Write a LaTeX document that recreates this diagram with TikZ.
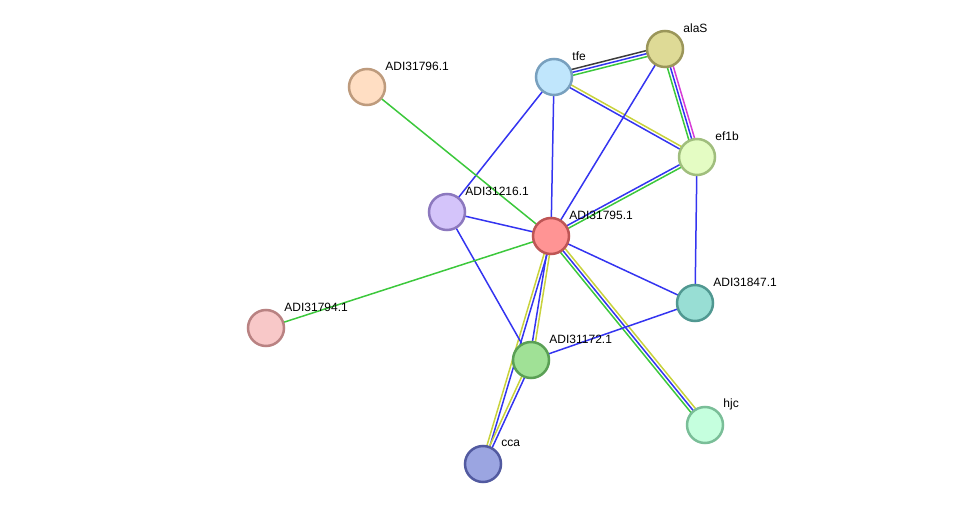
\documentclass[tikz,border=0pt]{standalone}
\usepackage{fontspec}
\setmainfont{Liberation Sans}
\usetikzlibrary{calc,backgrounds}

\definecolor{lnblue}{RGB}{52,52,240}
\definecolor{lngreen}{RGB}{60,200,60}
\definecolor{lnyellow}{RGB}{200,210,60}
\definecolor{lnpink}{RGB}{215,60,215}
\definecolor{lnblack}{RGB}{60,60,60}

% draw one coloured strand of a link, shifted sideways by #4
\newcommand\strand[4]{\draw[edge,#3] ($(#1.center)!#4!90:(#2.center)$) -- ($(#2.center)!#4!-90:(#1.center)$);}

\begin{document}
\begin{tikzpicture}
      [
        x=1pt, y=-1pt,
        prot/.style={circle, draw, line width=2.5pt, minimum size=36pt, inner sep=0pt},
        lbl/.style={xshift=-1pt, yshift=21pt, inner sep=0pt, font=\fontsize{12}{14}\selectfont},
        edge/.style={line width=1.5pt},
      ]
      \useasboundingbox (0,0) rectangle (975,510);

      % proteins
      \node [prot, fill={rgb,255:red,255;green,148;blue,148}, draw={rgb,255:red,190;green,85;blue,85}, label={[lbl]0:ADI31795.1}] (n795) at (551,236) {};
      \node [prot, fill={rgb,255:red,222;green,218;blue,150}, draw={rgb,255:red,155;green,150;blue,90}, label={[lbl]0:alaS}] (alas) at (665,49) {};
      \node [prot, fill={rgb,255:red,192;green,230;blue,252}, draw={rgb,255:red,120;green,160;blue,190}, label={[lbl]0:tfe}] (tfe) at (554,77) {};
      \node [prot, fill={rgb,255:red,228;green,252;blue,195}, draw={rgb,255:red,160;green,190;blue,125}, label={[lbl]0:ef1b}] (ef1b) at (697,157) {};
      \node [prot, fill={rgb,255:red,255;green,222;blue,195}, draw={rgb,255:red,190;green,155;blue,125}, label={[lbl]0:ADI31796.1}] (n796) at (367,87) {};
      \node [prot, fill={rgb,255:red,212;green,196;blue,250}, draw={rgb,255:red,140;green,120;blue,190}, label={[lbl]0:ADI31216.1}] (n216) at (447,212) {};
      \node [prot, fill={rgb,255:red,152;green,222;blue,212}, draw={rgb,255:red,80;green,152;blue,145}, label={[lbl]0:ADI31847.1}] (n847) at (695,303) {};
      \node [prot, fill={rgb,255:red,248;green,200;blue,200}, draw={rgb,255:red,185;green,130;blue,130}, label={[lbl]0:ADI31794.1}] (n794) at (266,328) {};
      \node [prot, fill={rgb,255:red,160;green,225;blue,150}, draw={rgb,255:red,90;green,160;blue,85}, label={[lbl]0:ADI31172.1}] (n172) at (531,360) {};
      \node [prot, fill={rgb,255:red,197;green,255;blue,222}, draw={rgb,255:red,122;green,190;blue,152}, label={[lbl]0:hjc}] (hjc) at (705,425) {};
      \node [prot, fill={rgb,255:red,155;green,165;blue,225}, draw={rgb,255:red,82;green,90;blue,160}, label={[lbl]0:cca}] (cca) at (483,464) {};

      \begin{scope}[on background layer]
      \strand{tfe}{alas}{lnblack}{3pt}
      \strand{tfe}{alas}{lnblue}{0pt}
      \strand{tfe}{alas}{lngreen}{-3pt}
      \strand{alas}{ef1b}{lnpink}{3pt}
      \strand{alas}{ef1b}{lnblue}{0pt}
      \strand{alas}{ef1b}{lngreen}{-3pt}
      \strand{tfe}{ef1b}{lnyellow}{1.5pt}
      \strand{tfe}{ef1b}{lnblue}{-1.5pt}
      \strand{n795}{ef1b}{lnblue}{1.5pt}
      \strand{n795}{ef1b}{lngreen}{-1.5pt}
      \strand{n795}{hjc}{lnyellow}{3pt}
      \strand{n795}{hjc}{lnblue}{0pt}
      \strand{n795}{hjc}{lngreen}{-3pt}
      \strand{n795}{n172}{lnyellow}{1.5pt}
      \strand{n795}{n172}{lnblue}{-1.5pt}
      \strand{n795}{cca}{lnblue}{1.5pt}
      \strand{n795}{cca}{lnyellow}{-1.5pt}
      \strand{n172}{cca}{lnblue}{1.5pt}
      \strand{n172}{cca}{lnyellow}{-1.5pt}
      \draw [edge, lnblue] (alas.center) -- (n795.center);
      \draw [edge, lnblue] (tfe.center) -- (n795.center);
      \draw [edge, lnblue] (tfe.center) -- (n216.center);
      \draw [edge, lnblue] (ef1b.center) -- (n847.center);
      \draw [edge, lnblue] (n216.center) -- (n795.center);
      \draw [edge, lnblue] (n216.center) -- (n172.center);
      \draw [edge, lnblue] (n795.center) -- (n847.center);
      \draw [edge, lnblue] (n172.center) -- (n847.center);
      \draw [edge, lngreen] (n796.center) -- (n795.center);
      \draw [edge, lngreen] (n794.center) -- (n795.center);
      \end{scope}
\end{tikzpicture}
\end{document}
